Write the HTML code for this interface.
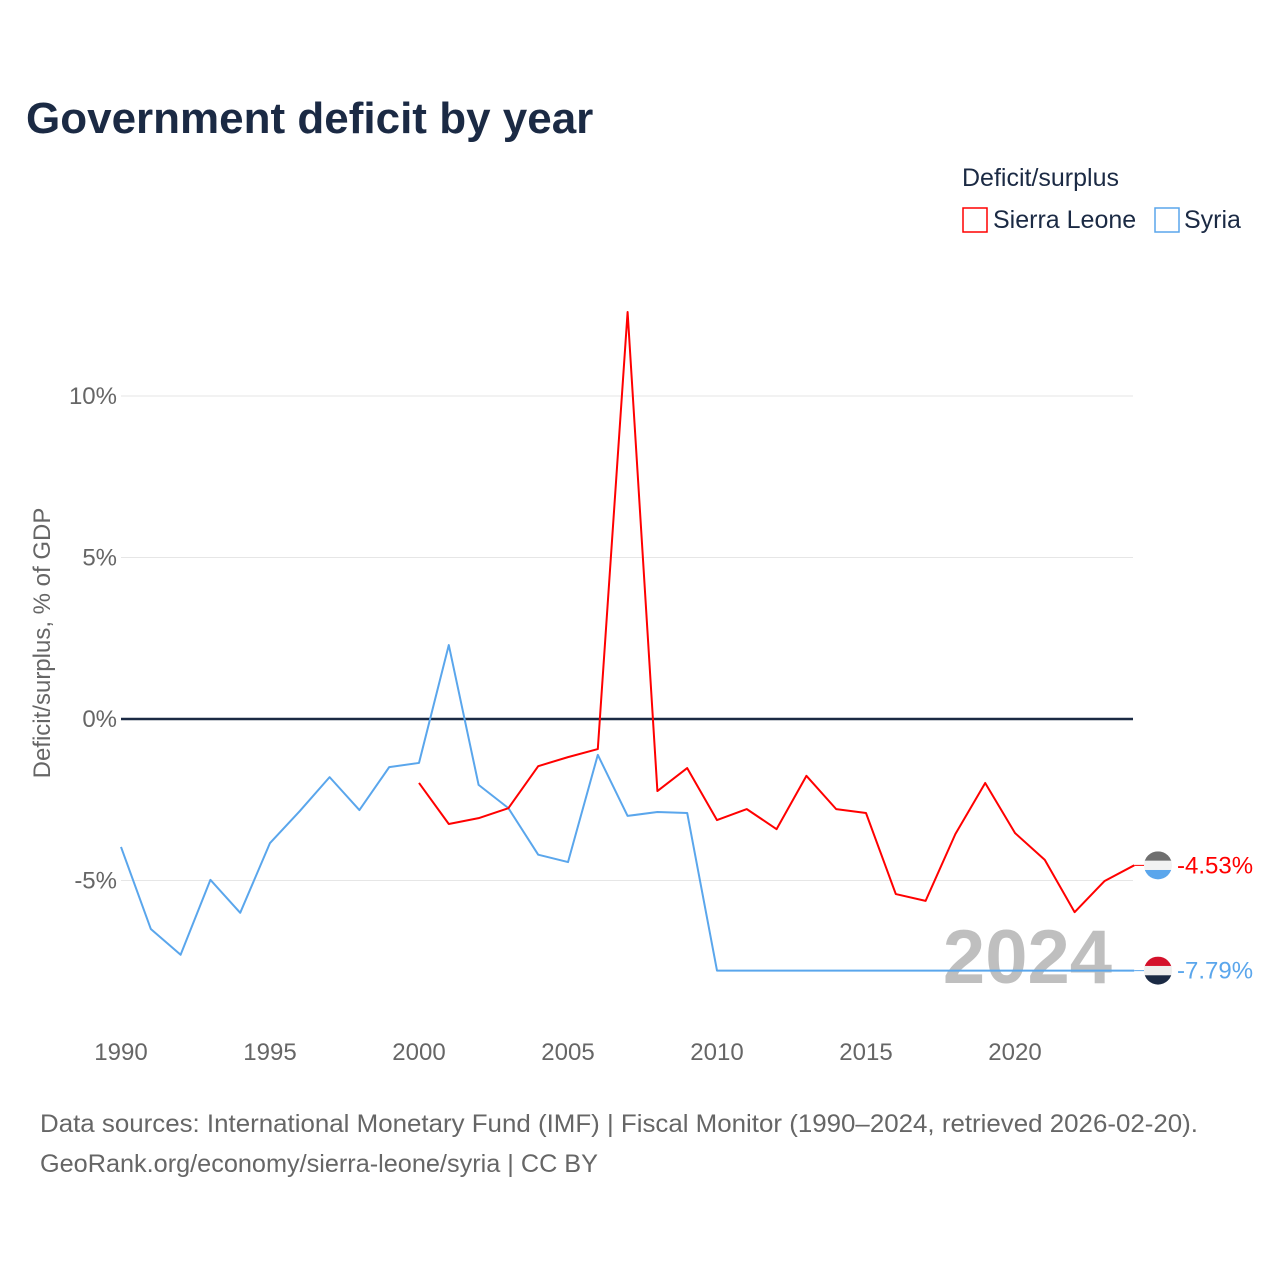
<!DOCTYPE html>
<html><head><meta charset="utf-8"><style>
body{margin:0;background:#fff;font-family:"Liberation Sans",sans-serif}
</style></head><body>
<svg width="1280" height="1280" viewBox="0 0 1280 1280" xmlns="http://www.w3.org/2000/svg">
<text x="26" y="133" font-size="44" font-weight="bold" fill="#1b2a44">Government deficit by year</text>
<text x="962" y="186" font-size="25" fill="#1b2a44">Deficit/surplus</text>
<g><rect x="963" y="208" width="24" height="24" fill="none" stroke="#ff0000" stroke-width="1.5"/><text x="993" y="228" font-size="25" fill="#1b2a44">Sierra Leone</text></g>
<g><rect x="1155" y="208" width="24" height="24" fill="none" stroke="#5aa6ec" stroke-width="1.5"/><text x="1184" y="228" font-size="25" fill="#1b2a44">Syria</text></g>
<text transform="translate(50,643) rotate(-90)" text-anchor="middle" font-size="24" fill="#666">Deficit/surplus, % of GDP</text>
<g id="grid"></g><g id="yt"></g><g id="xt"></g>
<text x="1112" y="983" text-anchor="end" font-size="76" font-weight="bold" fill="#bfbfbf">2024</text>
<g id="series"></g><g id="ends"></g>
<text x="40" y="1132" font-size="25" fill="#666" textLength="1158" lengthAdjust="spacingAndGlyphs">Data sources: International Monetary Fund (IMF) | Fiscal Monitor (1990–2024, retrieved 2026-02-20).</text>
<text x="40" y="1172" font-size="25" fill="#666" textLength="558" lengthAdjust="spacingAndGlyphs">GeoRank.org/economy/sierra-leone/syria | CC BY</text>
</svg>
<script>
const yTicks=[-5,0,5,10];
const xTicks=[1990,1995,2000,2005,2010,2015,2020];
const syriaYears=[1990,1991,1992,1993,1994,1995,1996,1997,1998,1999,2000,2001,2002,2003,2004,2005,2006,2007,2008,2009,2010,2011,2012,2013,2014,2015,2016,2017,2018,2019,2020,2021,2022,2023,2024];
const syriaVals=[-3.96,-6.5,-7.3,-4.98,-6.0,-3.84,-2.85,-1.8,-2.82,-1.49,-1.36,2.29,-2.04,-2.76,-4.2,-4.43,-1.11,-3.0,-2.88,-2.91,-7.79,-7.79,-7.79,-7.79,-7.79,-7.79,-7.79,-7.79,-7.79,-7.79,-7.79,-7.79,-7.79,-7.79,-7.79];
const slYears=[2000,2001,2002,2003,2004,2005,2006,2007,2008,2009,2010,2011,2012,2013,2014,2015,2016,2017,2018,2019,2020,2021,2022,2023,2024];
const slVals=[-1.98,-3.25,-3.07,-2.76,-1.46,-1.18,-0.93,12.6,-2.23,-1.52,-3.13,-2.79,-3.41,-1.76,-2.79,-2.91,-5.42,-5.63,-3.56,-1.98,-3.53,-4.36,-5.98,-5.02,-4.53];
const NS='http://www.w3.org/2000/svg';
const X=y=>121+(y-1990)*29.8;
const Y=v=>719-v*32.3;
function mk(t,a,p){const e=document.createElementNS(NS,t);for(const k in a)e.setAttribute(k,a[k]);p.appendChild(e);return e;}
const grid=document.getElementById('grid'),yt=document.getElementById('yt'),xt=document.getElementById('xt');
yTicks.forEach(v=>{
 const l=mk('line',{x1:121,x2:1133,y1:Y(v),y2:Y(v),stroke:v===0?'#1b2a44':'#e6e6e6','stroke-width':v===0?2.5:1},grid);
 
 
 const t=mk('text',{x:117,y:Y(v)+8,'text-anchor':'end','font-size':24,fill:'#666'},yt);
 t.textContent=v+'%';
 
 
});
xTicks.forEach(y=>{
 const t=mk('text',{x:X(y),y:1060,'text-anchor':'middle','font-size':24,fill:'#666'},xt);
 t.textContent=y;
 
 
});
const s=document.getElementById('series');
function line(ys,vs,c,name){
 const p=mk('polyline',{points:ys.map((y,i)=>X(y)+','+Y(vs[i])).join(' '),fill:'none',stroke:c,'stroke-width':2,'stroke-linejoin':'round'},s);
 
 
}
line(syriaYears,syriaVals,'#5aa6ec','syria-line');
line(slYears,slVals,'#ff0000','sierra-leone-line');
const ends=document.getElementById('ends');
function end(ys,vs,c,cols,name){
 const v=vs[vs.length-1],yy=Y(v),xx=X(ys[ys.length-1]);
 const g=mk('g',{},ends);
 
 
 mk('line',{x1:xx,x2:1158,y1:yy,y2:yy,stroke:c,'stroke-width':1},g);
 const cx=1158,r=14;
 mk('clipPath',{id:name+'c'},g).appendChild(document.createElementNS(NS,'circle')).setAttribute('r',r);
 const cl=g.lastChild.firstChild;cl.setAttribute('cx',cx);cl.setAttribute('cy',yy);
 cols.forEach((col,i)=>mk('rect',{x:cx-r,y:yy-r+i*2*r/3,width:2*r,height:2*r/3+0.5,fill:col,'clip-path':'url(#'+name+'c)'},g));
 const t=mk('text',{x:1177,y:yy+8,'font-size':24,fill:c},g);
 t.textContent=v.toFixed(2)+'%';
}
end(slYears,slVals,'#ff0000',['#6f6f6f','#f2f2f2','#5aa6ec'],'sierra-leone-end-label');
end(syriaYears,syriaVals,'#5aa6ec',['#d4112b','#eeeeee','#1b2a44'],'syria-end-label');
</script>
</body></html>
